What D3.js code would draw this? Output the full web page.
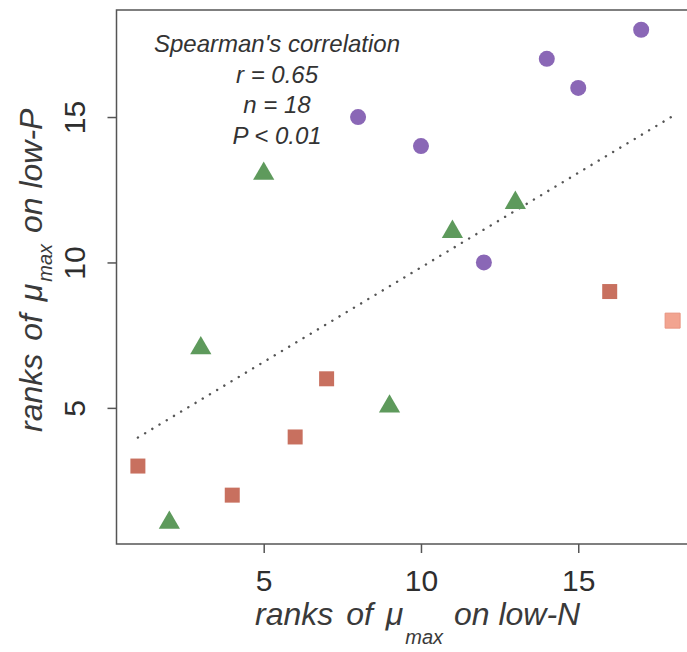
<!DOCTYPE html>
<html>
<head>
<meta charset="utf-8">
<script src="https://cdn.jsdelivr.net/npm/d3@7"></script>
<style>
  html, body { margin: 0; padding: 0; background: #fff; }
  svg { display: block; }
  text { font-family: "Liberation Sans", Arial, sans-serif; fill: #333; }
</style>
</head>
<body>
<svg id="chart" width="687" height="652"></svg>
<script>
// Rank of maximum growth rate under low-N (x) and low-P (y), one array pair per group
const circleX   = [8, 10, 12, 14, 15, 17];
const circleY   = [15, 14, 10, 17, 16, 18];
const triangleX = [2, 3, 5, 9, 11, 13];
const triangleY = [1, 7, 13, 5, 11, 12];
const squareX   = [1, 4, 6, 7, 16, 18];
const squareY   = [3, 2, 4, 6, 9, 8];
// one square is drawn in a lighter shade
const squareShade = ["dark", "dark", "dark", "dark", "dark", "light"];

// Fitted line endpoints (dotted)
const fitX = [1, 18];
const fitY = [3.98, 15.03];

const tickValues = [5, 10, 15];
const statLines = ["Spearman's correlation", "r = 0.65", "n = 18", "P < 0.01"];

const svg = d3.select("#chart");

const plot = { left: 116.5, right: 694, top: 10, bottom: 544 };
const x = d3.scaleLinear().domain([0.32, 18.68]).range([plot.left, plot.right]);
const y = d3.scaleLinear().domain([0.32, 18.68]).range([plot.bottom, plot.top]);

const axisColor = "#555";

// Frame (right edge falls outside the canvas)
svg.append("rect")
  .attr("x", plot.left).attr("y", plot.top)
  .attr("width", plot.right - plot.left).attr("height", plot.bottom - plot.top)
  .attr("fill", "none").attr("stroke", axisColor).attr("stroke-width", 1.5);

// Axes
const xAxis = svg.append("g")
  .attr("transform", `translate(0,${plot.bottom})`)
  .call(d3.axisBottom(x).tickValues(tickValues).tickSize(9).tickSizeOuter(0));
xAxis.select(".domain").remove();
xAxis.selectAll(".tick line").attr("stroke", axisColor).attr("stroke-width", 1.5);
xAxis.selectAll(".tick text")
  .attr("y", 47).attr("dy", 0)
  .style("font-size", "30px").style("fill", "#2e2e2e");

const yAxis = svg.append("g")
  .attr("transform", `translate(${plot.left},0)`)
  .call(d3.axisLeft(y).tickValues(tickValues).tickSize(9).tickSizeOuter(0));
yAxis.select(".domain").remove();
yAxis.selectAll(".tick line").attr("stroke", axisColor).attr("stroke-width", 1.5);
yAxis.selectAll(".tick text")
  .attr("transform", "rotate(-90)")
  .attr("x", 0).attr("y", -32).attr("dy", 0)
  .attr("text-anchor", "middle")
  .style("font-size", "30px").style("fill", "#2e2e2e");

// Dotted fitted line
const fitLine = d3.line().x(d => x(d[0])).y(d => y(d[1]));
svg.append("path")
  .datum(d3.zip(fitX, fitY))
  .attr("d", fitLine)
  .attr("fill", "none")
  .attr("stroke", "#555")
  .attr("stroke-width", 2.4)
  .attr("stroke-linecap", "round")
  .attr("stroke-dasharray", "0.1 8.3");

// Points
svg.append("g").selectAll("path")
  .data(d3.zip(circleX, circleY))
  .join("path")
  .attr("transform", d => `translate(${x(d[0])},${y(d[1])})`)
  .attr("d", d3.symbol().type(d3.symbolCircle).size(Math.PI * 8 * 8)())
  .attr("fill", "#8a67b6");

svg.append("g").selectAll("path")
  .data(d3.zip(triangleX, triangleY))
  .join("path")
  .attr("transform", d => `translate(${x(d[0])},${y(d[1]) - 1.5})`)
  .attr("d", d3.symbol().type(d3.symbolTriangle).size(195)())
  .attr("fill", "#5e9a5c");

svg.append("g").selectAll("path")
  .data(d3.zip(squareX, squareY, squareShade))
  .join("path")
  .attr("transform", d => `translate(${x(d[0])},${y(d[1])})`)
  .attr("d", d3.symbol().type(d3.symbolSquare).size(15 * 15)())
  .attr("fill", d => d[2] === "light" ? "#f2a490" : "#c8705f")
  .attr("stroke", d => d[2] === "light" ? "#e89480" : "none")
  .attr("stroke-width", 1);

// Statistics annotation
svg.append("g").selectAll("text")
  .data(statLines)
  .join("text")
  .attr("x", 277)
  .attr("y", (d, i) => 52 + i * 30.6)
  .attr("text-anchor", "middle")
  .style("font-size", "24px")
  .style("font-style", "italic")
  .style("fill", "#333")
  .text(d => d);

// Axis titles with subscript
function axisTitle(sel, label, size, subSize, subDrop, gap) {
  const t = sel.style("font-size", size + "px").style("font-style", "italic").style("fill", "#3a3a3a");
  t.append("tspan").style("word-spacing", gap + "px").text("ranks of μ");
  t.append("tspan").attr("dx", 2).attr("dy", subDrop).style("font-size", subSize + "px").text("max");
  t.append("tspan").attr("dx", 2).attr("dy", -subDrop).text(" " + label);
  return t;
}
axisTitle(svg.append("text").attr("x", 255).attr("y", 625), "on low-N", 32, 20, 19, 4);
axisTitle(svg.append("text").attr("transform", "translate(42,432) rotate(-90)"), "on low-P", 32, 20, 10, 4);
</script>
</body>
</html>
